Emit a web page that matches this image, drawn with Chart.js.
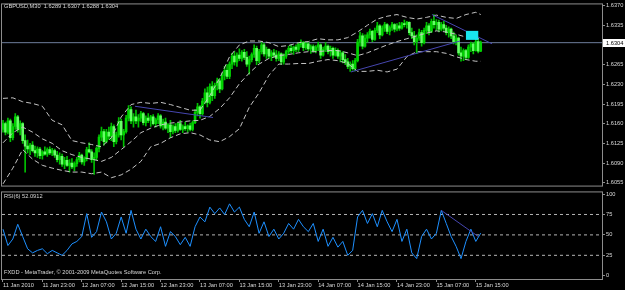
<!DOCTYPE html>
<html>
<head>
<meta charset="utf-8">
<script src="https://cdn.jsdelivr.net/npm/chart.js@4.4.1/dist/chart.umd.min.js"></script>
<style>
html, body { margin: 0; padding: 0; background: #000; }
#wrap { position: relative; width: 625px; height: 290px; overflow: hidden; background: #000; font-family: "Liberation Sans", Arial, sans-serif; }
#main { position: absolute; left: 0; top: 0; }
#rsi { position: absolute; left: 0; top: 188px; }
.lbl { position: absolute; color: #d8d8d8; font-size: 5.7px; line-height: 6px; white-space: pre; }
</style>
</head>
<body>
<div id="wrap">
  <canvas id="main" width="625" height="190"></canvas>
  <canvas id="rsi" width="625" height="102"></canvas>
  <div class="lbl" style="left:4px;top:3px;">GBPUSD,M30  1.6289 1.6307 1.6288 1.6304</div>
  <div class="lbl" style="left:4px;top:193px;">RSI(6) 52.0912</div>
  <div class="lbl" style="left:4px;top:269px;">FXDD - MetaTrader, © 2001-2009 MetaQuotes Software Corp.</div>
</div>
<script>
// GBPUSD M30 bars, 11 Jan 15:00 .. 15 Jan 16:00 (bar index = position on the time axis)
const openP = [1.6150,1.6160,1.6145,1.6165,1.6135,1.6155,1.6172,1.6150,1.6160,1.6130,
1.6120,1.6115,1.6122,1.6112,1.6108,1.6115,1.6103,1.6110,1.6106,1.6114,
1.6108,1.6112,1.6104,1.6096,1.6102,1.6088,1.6095,1.6086,1.6090,1.6083,
1.6089,1.6096,1.6104,1.6092,1.6098,1.6114,1.6110,1.6096,1.6100,1.6116,
1.6136,1.6146,1.6128,1.6145,1.6138,1.6155,1.6128,1.6140,1.6164,1.6140,
1.6146,1.6170,1.6185,1.6165,1.6172,1.6165,1.6170,1.6178,1.6162,1.6170,
1.6166,1.6172,1.6160,1.6167,1.6174,1.6156,1.6163,1.6152,1.6158,1.6146,
1.6155,1.6148,1.6160,1.6150,1.6155,1.6151,1.6156,1.6150,1.6162,1.6180,
1.6190,1.6178,1.6200,1.6215,1.6198,1.6226,1.6210,1.6228,1.6236,1.6222,
1.6246,1.6255,1.6244,1.6266,1.6280,1.6270,1.6282,1.6276,1.6287,1.6278,
1.6266,1.6274,1.6283,1.6294,1.6272,1.6288,1.6300,1.6284,1.6292,1.6280,
1.6286,1.6282,1.6276,1.6284,1.6270,1.6280,1.6288,1.6294,1.6290,1.6296,
1.6292,1.6301,1.6304,1.6295,1.6302,1.6293,1.6297,1.6290,1.6296,1.6300,
1.6282,1.6292,1.6298,1.6288,1.6294,1.6282,1.6290,1.6280,1.6286,1.6274,
1.6270,1.6262,1.6266,1.6258,1.6272,1.6305,1.6316,1.6298,1.6312,1.6318,
1.6324,1.6310,1.6326,1.6334,1.6318,1.6330,1.6336,1.6324,1.6331,1.6336,
1.6328,1.6334,1.6330,1.6338,1.6336,1.6340,1.6322,1.6316,1.6306,1.6312,
1.6322,1.6304,1.6326,1.6334,1.6324,1.6342,1.6336,1.6340,1.6328,1.6336,
1.6330,1.6322,1.6328,1.6316,1.6306,1.6312,1.6286,1.6280,1.6290,1.6278,
1.6296,1.6302,1.6290,1.6306,1.6289];
const highP = [1.6166,1.6163,1.6170,1.6168,1.6160,1.6178,1.6175,1.6165,1.6162,1.6140,
1.6131,1.6125,1.6128,1.6120,1.6119,1.6118,1.6112,1.6119,1.6117,1.6119,
1.6116,1.6115,1.6111,1.6108,1.6106,1.6100,1.6102,1.6096,1.6098,1.6092,
1.6100,1.6109,1.6106,1.6101,1.6118,1.6126,1.6114,1.6108,1.6119,1.6140,
1.6154,1.6150,1.6150,1.6154,1.6161,1.6158,1.6145,1.6171,1.6168,1.6150,
1.6175,1.6192,1.6190,1.6178,1.6184,1.6176,1.6182,1.6180,1.6174,1.6178,
1.6175,1.6176,1.6170,1.6178,1.6176,1.6168,1.6170,1.6160,1.6166,1.6158,
1.6160,1.6162,1.6166,1.6158,1.6163,1.6158,1.6161,1.6165,1.6185,1.6196,
1.6192,1.6205,1.6222,1.6225,1.6231,1.6235,1.6232,1.6241,1.6240,1.6250,
1.6262,1.6265,1.6270,1.6285,1.6288,1.6286,1.6293,1.6290,1.6292,1.6288,
1.6280,1.6286,1.6300,1.6298,1.6292,1.6305,1.6303,1.6296,1.6293,1.6290,
1.6292,1.6290,1.6288,1.6286,1.6284,1.6291,1.6298,1.6300,1.6298,1.6300,
1.6304,1.6309,1.6306,1.6305,1.6304,1.6300,1.6300,1.6299,1.6305,1.6302,
1.6296,1.6304,1.6300,1.6298,1.6296,1.6295,1.6293,1.6290,1.6288,1.6283,
1.6276,1.6270,1.6272,1.6276,1.6310,1.6323,1.6320,1.6318,1.6322,1.6328,
1.6326,1.6330,1.6340,1.6336,1.6334,1.6340,1.6338,1.6334,1.6340,1.6338,
1.6338,1.6340,1.6340,1.6344,1.6342,1.6341,1.6330,1.6324,1.6318,1.6328,
1.6326,1.6330,1.6340,1.6338,1.6346,1.6354,1.6345,1.6344,1.6340,1.6342,
1.6335,1.6332,1.6330,1.6323,1.6318,1.6314,1.6296,1.6293,1.6292,1.6300,
1.6305,1.6304,1.6311,1.6310,1.6307];
const lowP = [1.6145,1.6140,1.6142,1.6128,1.6131,1.6150,1.6145,1.6140,1.6125,1.6074,
1.6108,1.6105,1.6110,1.6102,1.6100,1.6098,1.6097,1.6104,1.6102,1.6105,
1.6103,1.6100,1.6092,1.6088,1.6084,1.6080,1.6084,1.6074,1.6080,1.6076,
1.6084,1.6092,1.6088,1.6086,1.6094,1.6108,1.6091,1.6070,1.6096,1.6110,
1.6130,1.6122,1.6126,1.6132,1.6130,1.6119,1.6124,1.6136,1.6131,1.6119,
1.6143,1.6165,1.6160,1.6154,1.6160,1.6154,1.6164,1.6158,1.6156,1.6162,
1.6155,1.6158,1.6154,1.6160,1.6152,1.6149,1.6150,1.6144,1.6135,1.6142,
1.6144,1.6145,1.6148,1.6144,1.6148,1.6145,1.6147,1.6147,1.6160,1.6174,
1.6170,1.6175,1.6195,1.6190,1.6195,1.6201,1.6205,1.6220,1.6215,1.6220,
1.6238,1.6240,1.6240,1.6258,1.6264,1.6262,1.6272,1.6271,1.6274,1.6262,
1.6248,1.6270,1.6278,1.6265,1.6268,1.6284,1.6280,1.6276,1.6276,1.6272,
1.6278,1.6271,1.6272,1.6265,1.6266,1.6276,1.6284,1.6286,1.6283,1.6288,
1.6288,1.6296,1.6290,1.6292,1.6290,1.6285,1.6287,1.6286,1.6290,1.6276,
1.6280,1.6288,1.6284,1.6280,1.6276,1.6280,1.6276,1.6270,1.6268,1.6265,
1.6258,1.6253,1.6255,1.6254,1.6270,1.6298,1.6293,1.6296,1.6305,1.6312,
1.6306,1.6308,1.6322,1.6311,1.6316,1.6324,1.6320,1.6318,1.6326,1.6323,
1.6325,1.6326,1.6328,1.6332,1.6330,1.6318,1.6311,1.6300,1.6285,1.6308,
1.6298,1.6302,1.6320,1.6318,1.6322,1.6330,1.6326,1.6323,1.6325,1.6326,
1.6318,1.6314,1.6311,1.6302,1.6300,1.6282,1.6271,1.6272,1.6274,1.6276,
1.6288,1.6284,1.6289,1.6286,1.6288];
const closeP = [1.6160,1.6145,1.6165,1.6135,1.6155,1.6172,1.6150,1.6160,1.6130,1.6120,
1.6115,1.6122,1.6112,1.6108,1.6115,1.6103,1.6110,1.6106,1.6114,1.6108,
1.6112,1.6104,1.6096,1.6102,1.6088,1.6095,1.6086,1.6090,1.6083,1.6089,
1.6096,1.6104,1.6092,1.6098,1.6114,1.6110,1.6096,1.6100,1.6116,1.6136,
1.6146,1.6128,1.6145,1.6138,1.6155,1.6128,1.6140,1.6164,1.6140,1.6146,
1.6170,1.6185,1.6165,1.6172,1.6165,1.6170,1.6178,1.6162,1.6170,1.6166,
1.6172,1.6160,1.6167,1.6174,1.6156,1.6163,1.6152,1.6158,1.6146,1.6155,
1.6148,1.6160,1.6150,1.6155,1.6151,1.6156,1.6150,1.6162,1.6180,1.6190,
1.6178,1.6200,1.6215,1.6198,1.6226,1.6210,1.6228,1.6236,1.6222,1.6246,
1.6255,1.6244,1.6266,1.6280,1.6270,1.6282,1.6276,1.6287,1.6278,1.6266,
1.6274,1.6283,1.6294,1.6272,1.6288,1.6300,1.6284,1.6292,1.6280,1.6286,
1.6282,1.6276,1.6284,1.6270,1.6280,1.6288,1.6294,1.6290,1.6296,1.6292,
1.6301,1.6304,1.6295,1.6302,1.6293,1.6297,1.6290,1.6296,1.6300,1.6282,
1.6292,1.6298,1.6288,1.6294,1.6282,1.6290,1.6280,1.6286,1.6274,1.6270,
1.6262,1.6266,1.6258,1.6272,1.6305,1.6316,1.6298,1.6312,1.6318,1.6324,
1.6310,1.6326,1.6334,1.6318,1.6330,1.6336,1.6324,1.6331,1.6336,1.6328,
1.6334,1.6330,1.6338,1.6336,1.6340,1.6322,1.6316,1.6306,1.6312,1.6322,
1.6304,1.6326,1.6334,1.6324,1.6342,1.6336,1.6340,1.6328,1.6336,1.6330,
1.6322,1.6328,1.6316,1.6306,1.6312,1.6286,1.6280,1.6290,1.6278,1.6296,
1.6302,1.6290,1.6306,1.6289,1.6304];

// bands, read every 4th bar
const bandBars = [0,4,8,12,16,20,24,28,32,36,40,44,48,52,56,60,64,68,72,76,80,84,88,92,96,
  100,104,108,112,116,120,124,128,132,136,140,144,148,152,156,160,164,168,172,176,180,184,188,192,194];
const bandUpper = [1.6205,1.6206,1.6199,1.6196,1.6191,1.6166,1.6158,1.6130,1.6126,1.6123,
1.6119,1.6135,1.6172,1.6194,1.6198,1.6196,1.6198,1.6194,1.6189,1.6184,
1.6184,1.6210,1.6241,1.6279,1.6300,1.6307,1.6307,1.6304,1.6297,1.6299,
1.6304,1.6306,1.6311,1.6309,1.6309,1.6313,1.6323,1.6335,1.6346,1.6351,
1.6354,1.6349,1.6346,1.6349,1.6353,1.6349,1.6347,1.6354,1.6358,1.6354];
const bandMiddle = [1.6126,1.6144,1.6154,1.6145,1.6133,1.6125,1.6112,1.6105,1.6100,1.6097,
1.6093,1.6100,1.6114,1.6128,1.6144,1.6152,1.6158,1.6161,1.6163,1.6165,
1.6166,1.6173,1.6187,1.6206,1.6231,1.6250,1.6266,1.6276,1.6281,1.6283,
1.6286,1.6288,1.6288,1.6290,1.6290,1.6286,1.6281,1.6286,1.6293,1.6300,
1.6306,1.6311,1.6316,1.6321,1.6325,1.6323,1.6319,1.6314,1.6311,1.6311];
const bandLower = [1.6053,1.6081,1.6114,1.6097,1.6086,1.6081,1.6077,1.6074,1.6074,1.6071,
1.6074,1.6064,1.6069,1.6079,1.6093,1.6119,1.6125,1.6135,1.6142,1.6144,
1.6140,1.6131,1.6128,1.6137,1.6151,1.6189,1.6215,1.6246,1.6266,1.6266,
1.6267,1.6267,1.6271,1.6274,1.6272,1.6267,1.6253,1.6253,1.6255,1.6252,
1.6257,1.6279,1.6288,1.6288,1.6288,1.6285,1.6279,1.6274,1.6271,1.6271];

// RSI(6), read every 2nd bar
const rsiBars = [];
for (let b = 0; b <= 194; b += 2) rsiBars.push(b);
const rsiValues = [57,37,45,63,48,33,28,31,33,27,
31,28,25,31,39,42,48,76,47,54,
78,66,45,52,72,52,80,57,45,57,
48,42,60,36,54,48,38,47,36,60,
72,66,84,76,83,75,88,78,84,69,
60,78,52,66,48,57,45,52,64,57,
69,60,54,64,42,57,36,47,35,42,
25,31,72,80,64,76,60,80,66,54,
69,42,57,28,21,48,57,45,52,80,
64,48,36,21,42,57,42,52.09];
const rsiLevels = [25, 50, 75];
const rsiTicks = [100, 75, 50, 25, 0];

// axes
const priceTicks = [1.6370, 1.6335, 1.6265, 1.6230, 1.6195, 1.6160, 1.6125, 1.6090, 1.6055];
const bidPrice = 1.6304;
const xTickBars = [0,16,32,48,64,80,96,112,128,144,160,176,192];
const xTickLabels = ['11 Jan 2010','11 Jan 23:00','12 Jan 07:00','12 Jan 15:00','12 Jan 23:00',
  '13 Jan 07:00','13 Jan 15:00','13 Jan 23:00','14 Jan 07:00','14 Jan 15:00','14 Jan 23:00',
  '15 Jan 07:00','15 Jan 15:00'];

// drawn objects: [bar, price] pairs
const trendLines = [
  [[53.6, 1.6191], [85.3, 1.6171]],
  [[141.3, 1.6252], [185.6, 1.6307]],
  [[174.2, 1.6354], [198.6, 1.6302]]
];
const rsiTrend = [[178, 80], [193, 48]];
const boxBars = [188, 193];
const boxPrices = [1.6309, 1.6325];

const xMin = -0.4, xMax = 243.25;
const textCol = '#d8d8d8';
const axisCol = '#8c8c8c';
const smallFont = { family: 'Liberation Sans', size: 5.7 };

const bodyColors = closeP.map((c, i) => c >= openP[i] ? '#00d400' : '#66ff66');
const pts = (xs, ys) => xs.map((x, k) => ({ x: x, y: ys[k] }));

const framePlugin = {
  id: 'frame',
  beforeDraw(chart) {
    const { ctx } = chart;
    ctx.save();
    ctx.fillStyle = '#000';
    ctx.fillRect(0, 0, chart.width, chart.height);
    ctx.restore();
  },
  afterDraw(chart) {
    const { ctx, chartArea: a } = chart;
    ctx.save();
    ctx.strokeStyle = axisCol;
    ctx.lineWidth = 1;
    ctx.strokeRect(a.left - 0.5, a.top - 0.5, a.right - a.left + 1, a.bottom - a.top + 1);
    ctx.restore();
  }
};

const boxPlugin = {
  id: 'box',
  afterDatasetsDraw(chart) {
    const { ctx, scales: { x, y } } = chart;
    const x0 = x.getPixelForValue(boxBars[0]), x1 = x.getPixelForValue(boxBars[1]);
    const y0 = y.getPixelForValue(boxPrices[1]), y1 = y.getPixelForValue(boxPrices[0]);
    ctx.save();
    ctx.fillStyle = '#19e6ee';
    ctx.fillRect(x0, y0, x1 - x0, y1 - y0);
    ctx.restore();
  }
};

const bidPlugin = {
  id: 'bid',
  afterDraw(chart) {
    const { ctx, chartArea: a, scales: { y } } = chart;
    const py = Math.round(y.getPixelForValue(bidPrice));
    ctx.save();
    ctx.fillStyle = '#ffffff';
    ctx.fillRect(a.right + 1, py - 4, chart.width - a.right - 1, 8);
    ctx.fillStyle = '#000';
    ctx.font = '5.7px "Liberation Sans"';
    ctx.textBaseline = 'middle';
    ctx.fillText(bidPrice.toFixed(4), a.right + 4, py);
    ctx.restore();
  }
};

new Chart(document.getElementById('main'), {
  type: 'bar',
  data: {
    datasets: [
      { type: 'line', data: [{ x: xMin, y: bidPrice }, { x: xMax, y: bidPrice }],
        borderColor: '#6e7e9c', borderWidth: 1, pointRadius: 0, order: 5 },
      { data: pts(highP.map((h, i) => i), highP.map((h, i) => [lowP[i], h])),
        backgroundColor: '#00c000', barThickness: 1, grouped: false, order: 4 },
      { data: pts(closeP.map((c, i) => i), closeP.map((c, i) => [openP[i], c])),
        backgroundColor: bodyColors, barThickness: 2, minBarLength: 1, grouped: false, order: 3 },
      { type: 'line', data: pts(bandBars, bandUpper), borderColor: '#c4c4c4', borderWidth: 1,
        borderDash: [5, 3], pointRadius: 0, order: 2 },
      { type: 'line', data: pts(bandBars, bandMiddle), borderColor: '#c4c4c4', borderWidth: 1,
        borderDash: [5, 3], pointRadius: 0, order: 2 },
      { type: 'line', data: pts(bandBars, bandLower), borderColor: '#c4c4c4', borderWidth: 1,
        borderDash: [5, 3], pointRadius: 0, order: 2 },
      ...trendLines.map(t => ({ type: 'line', data: t.map(p => ({ x: p[0], y: p[1] })),
        borderColor: '#4646b0', borderWidth: 1, pointRadius: 0, order: 1 }))
    ]
  },
  options: {
    responsive: false,
    animation: false,
    devicePixelRatio: 1,
    layout: { padding: { top: 2, left: 2, right: 0, bottom: 3 } },
    plugins: { legend: { display: false }, tooltip: { enabled: false } },
    scales: {
      x: { type: 'linear', min: xMin, max: xMax, display: false, offset: false },
      y: {
        position: 'right', min: 1.6050, max: 1.6372,
        afterBuildTicks: s => { s.ticks = priceTicks.map(v => ({ value: v })); },
        afterFit: s => { s.width = 23; },
        ticks: { color: textCol, font: smallFont, padding: 1, callback: v => v.toFixed(4) },
        grid: { drawOnChartArea: false, tickLength: 3, color: axisCol },
        border: { color: axisCol }
      }
    }
  },
  plugins: [framePlugin, boxPlugin, bidPlugin]
});

new Chart(document.getElementById('rsi'), {
  type: 'line',
  data: {
    datasets: [
      ...rsiLevels.map(l => ({ data: [{ x: xMin, y: l }, { x: xMax, y: l }], borderColor: '#b4b4b4',
        borderWidth: 1, borderDash: [3, 3], pointRadius: 0, order: 3 })),
      { data: pts(rsiBars, rsiValues), borderColor: '#1e90ff', borderWidth: 1, pointRadius: 0, order: 2 },
      { data: rsiTrend.map(p => ({ x: p[0], y: p[1] })), borderColor: '#4646b0', borderWidth: 1,
        pointRadius: 0, order: 1 }
    ]
  },
  options: {
    responsive: false,
    animation: false,
    devicePixelRatio: 1,
    layout: { padding: { top: 2, left: 2, right: 0, bottom: 0 } },
    plugins: { legend: { display: false }, tooltip: { enabled: false } },
    scales: {
      x: {
        type: 'linear', min: xMin, max: xMax, offset: false,
        afterBuildTicks: s => { s.ticks = xTickBars.map(v => ({ value: v })); },
        afterFit: s => { s.height = 11; },
        ticks: { color: textCol, font: smallFont, padding: 0, align: 'start', autoSkip: false, maxRotation: 0,
          callback: v => xTickLabels[xTickBars.indexOf(v)] },
        grid: { drawOnChartArea: false, tickLength: 3, color: axisCol },
        border: { color: axisCol }
      },
      y: {
        position: 'right', min: -4, max: 102,
        afterBuildTicks: s => { s.ticks = rsiTicks.map(v => ({ value: v })); },
        afterFit: s => { s.width = 23; },
        ticks: { color: textCol, font: smallFont, padding: 1 },
        grid: { drawOnChartArea: false, tickLength: 3, color: axisCol },
        border: { color: axisCol }
      }
    }
  },
  plugins: [framePlugin]
});
</script>
</body>
</html>
